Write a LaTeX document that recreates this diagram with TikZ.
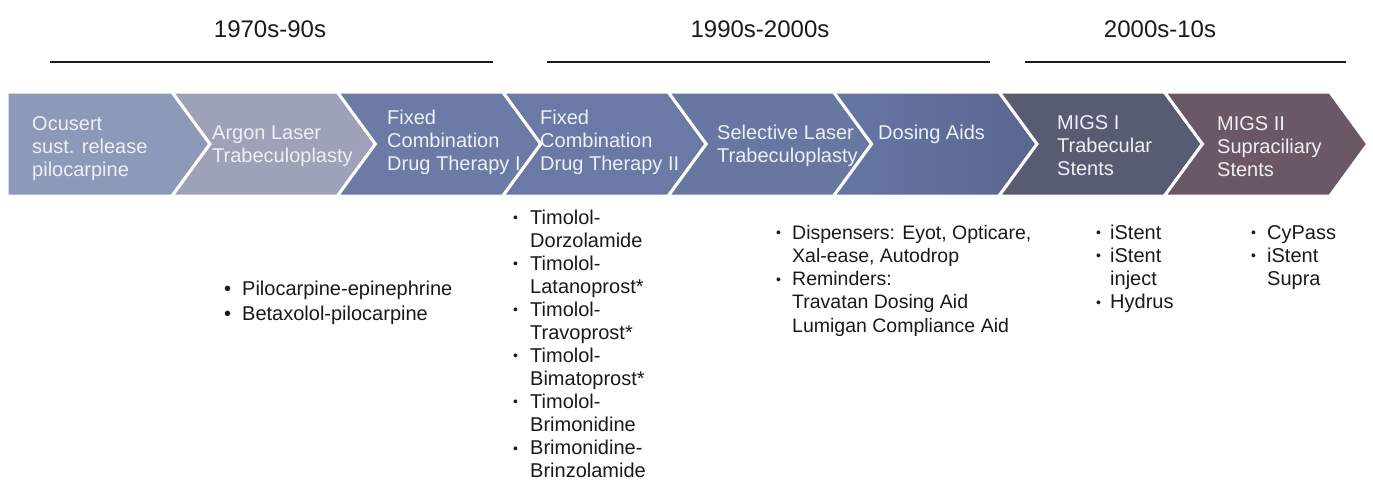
\documentclass[tikz,border=0pt]{standalone}
\usepackage{fontspec}
\setmainfont{Liberation Sans}
\definecolor{cA}{HTML}{8C99B9}
\definecolor{cB}{HTML}{9EA2B8}
\definecolor{cC}{HTML}{6C7BA6}
\definecolor{cD}{HTML}{6A79A5}
\definecolor{cE}{HTML}{6876A2}
\definecolor{cF}{HTML}{6676A4}
\definecolor{cFr}{HTML}{5A6690}
\definecolor{cG}{HTML}{575C73}
\definecolor{cH}{HTML}{6B5866}
\definecolor{chevtext}{HTML}{EEF0F5}
\definecolor{ink}{HTML}{1A1A1A}
\newcommand\sbul{\makebox[4pt][l]{\raisebox{1.5pt}{\fontsize{14}{14}\selectfont •}}}
\newcommand\bbul{\makebox[8pt][l]{\fontsize{20}{20}\selectfont •}}
\begin{document}
\begin{tikzpicture}[x=1pt,y=-1pt,
  chev/.style={anchor=base west, inner sep=0pt, text=chevtext, font=\fontsize{20}{23}\selectfont},
  hdr/.style={anchor=base, inner sep=0pt, text=ink, font=\fontsize{24}{24}\selectfont},
  lst/.style={anchor=base west, inner sep=0pt, text=ink, font=\fontsize{20}{23.3}\selectfont},
  era/.style={line width=2.6pt, draw=ink},
  band/.style={draw=white, line width=3pt, line join=miter}]
\useasboundingbox (0,0) rectangle (1373,482);
\fill[white] (0,0) rectangle (1373,482);

% headers
\node[hdr] (h1) at (270,37.5) {1970s-90s};
\node[hdr] (h2) at (760,37.5) {1990s-2000s};
\node[hdr] (h3) at (1160,37.5) {2000s-10s};
\coordinate (a1) at (50,62);   \coordinate (b1) at (493,62);
\coordinate (a2) at (547,62);  \coordinate (b2) at (990,62);
\coordinate (a3) at (1025,62); \coordinate (b3) at (1346,62);
\draw[era] (a1) -- (b1);
\draw[era] (a2) -- (b2);
\draw[era] (a3) -- (b3);

% chevrons
\shadedraw[band, left color=cA, right color=cA] (7,92) -- (172,92) -- (210,144) -- (172,196) -- (7,196) -- cycle;
\foreach \i/\cl/\cr in {2/cB/cB,3/cC/cC,4/cD/cD,5/cE/cE,6/cF/cFr,7/cG/cG,8/cH/cH}{
  \pgfmathsetmacro\rp{172+165.4*(\i-2)}
  \pgfmathsetmacro\rr{172+165.4*(\i-1)}
  \shadedraw[band, left color=\cl, right color=\cr]
    (\rp,92) -- (\rr,92) -- (\rr+38,144) -- (\rr,196) -- (\rp,196) -- (\rp+38,144) -- cycle;
}

\node[chev] (t1) at (32,130) {\begin{tabular}[t]{@{}l@{}}Ocusert\\sust. release\\pilocarpine\end{tabular}};
\node[chev] (t2) at (212,139) {\begin{tabular}[t]{@{}l@{}}Argon Laser\\Trabeculoplasty\end{tabular}};
\node[chev] (t3) at (387,124) {\begin{tabular}[t]{@{}l@{}}Fixed\\Combination\\Drug Therapy I\end{tabular}};
\node[chev] (t4) at (540,124) {\begin{tabular}[t]{@{}l@{}}Fixed\\Combination\\Drug Therapy II\end{tabular}};
\node[chev] (t5) at (717,139) {\begin{tabular}[t]{@{}l@{}}Selective Laser\\Trabeculoplasty\end{tabular}};
\node[chev] (t6) at (878,139) {Dosing Aids};
\node[chev] (t7) at (1057,129) {\begin{tabular}[t]{@{}l@{}}MIGS I\\Trabecular\\Stents\end{tabular}};
\node[chev] (t8) at (1217,130) {\begin{tabular}[t]{@{}l@{}}MIGS II\\Supraciliary\\Stents\end{tabular}};

% lists
\node[lst, font=\fontsize{20}{25}\selectfont] (l1) at (224,295) {\begin{tabular}[t]{@{}p{18pt}@{}l@{}}
\bbul & Pilocarpine-epinephrine\\
\bbul & Betaxolol-pilocarpine\end{tabular}};
\node[lst, font=\fontsize{20}{23.05}\selectfont] (l2) at (513,224) {\begin{tabular}[t]{@{}p{17pt}@{}l@{}}
\sbul & Timolol-\\ & Dorzolamide\\
\sbul & Timolol-\\ & Latanoprost*\\
\sbul & Timolol-\\ & Travoprost*\\
\sbul & Timolol-\\ & Bimatoprost*\\
\sbul & Timolol-\\ & Brimonidine\\
\sbul & Brimonidine-\\ & Brinzolamide\end{tabular}};
\node[lst, font=\fontsize{19.5}{23.3}\selectfont] (l3) at (776,239) {\begin{tabular}[t]{@{}p{16pt}@{}l@{}}
\sbul & Dispensers: Eyot, Opticare,\\ & Xal-ease, Autodrop\\
\sbul & Reminders:\\ & Travatan Dosing Aid\\ & Lumigan Compliance Aid\end{tabular}};
\node[lst] (l4) at (1096,239) {\begin{tabular}[t]{@{}p{14pt}@{}l@{}}
\sbul & iStent\\
\sbul & iStent\\ & inject\\
\sbul & Hydrus\end{tabular}};
\node[lst] (l5) at (1251,239) {\begin{tabular}[t]{@{}p{16pt}@{}l@{}}
\sbul & CyPass\\
\sbul & iStent\\ & Supra\end{tabular}};
\end{tikzpicture}
\end{document}
